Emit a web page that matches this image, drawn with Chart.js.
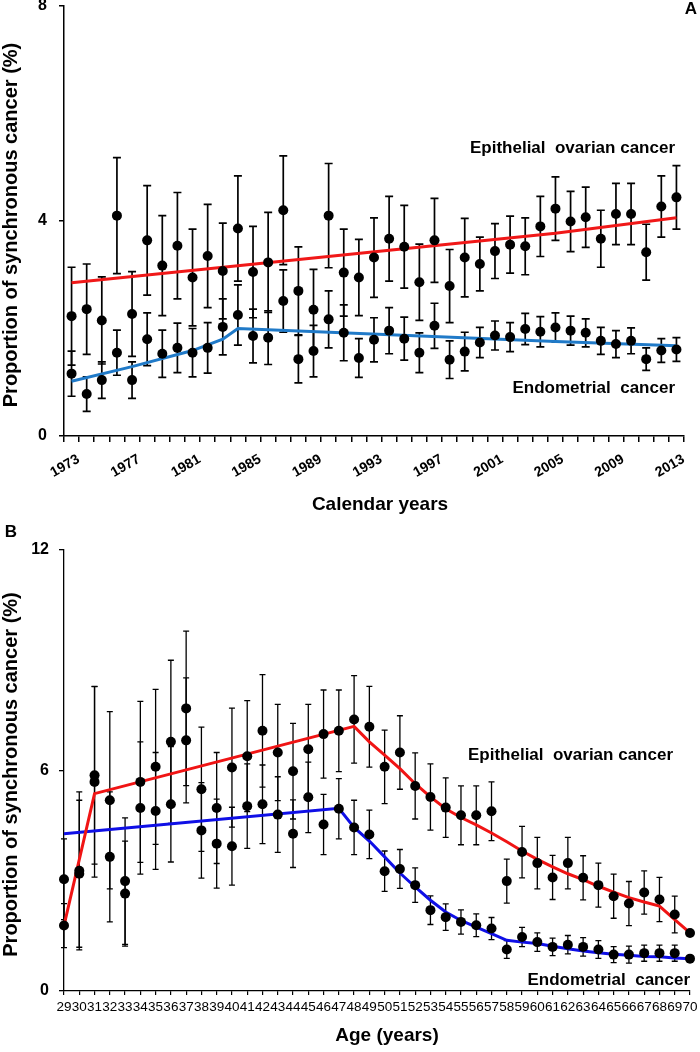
<!DOCTYPE html>
<html><head><meta charset="utf-8">
<script src="https://cdn.jsdelivr.net/npm/chart.js@4.4.0/dist/chart.umd.min.js"></script>
<style>
html,body{margin:0;padding:0;background:#fff;}
#wrap{position:relative;width:700px;height:1052px;background:#fff;overflow:hidden;}
#cA{position:absolute;left:0;top:0;}
#cB{position:absolute;left:0;top:520px;}
</style></head><body>
<div id="wrap"><canvas id="cA" width="700" height="520"></canvas><canvas id="cB" width="700" height="532"></canvas></div>
<script>
// ---------- Panel A data ----------
const yearsA = ['1973','1974','1975','1976','1977','1978','1979','1980','1981','1982',
  '1983','1984','1985','1986','1987','1988','1989','1990','1991','1992',
  '1993','1994','1995','1996','1997','1998','1999','2000','2001','2002',
  '2003','2004','2005','2006','2007','2008','2009','2010','2011','2012','2013'];
const tickLabelsA = ['1973','1977','1981','1985','1989','1993','1997','2001','2005','2009','2013'];
const ovarianA = [2.23,2.36,2.15,4.10,2.27,3.64,3.17,3.54,2.95,3.35,
  3.07,3.86,3.05,3.23,4.20,2.70,2.35,4.10,3.04,2.95,
  3.32,3.67,3.52,2.86,3.64,2.79,3.32,3.20,3.44,3.56,
  3.53,3.90,4.23,3.99,4.07,3.67,4.13,4.13,3.42,4.27,4.44];
const ovarianErrA = [0.91,0.84,0.81,1.08,0.79,1.02,0.93,0.99,0.90,0.96,
  0.89,0.98,0.85,0.93,1.01,0.82,0.75,0.97,0.81,0.71,
  0.74,0.79,0.77,0.71,0.78,0.68,0.73,0.50,0.51,0.53,
  0.53,0.56,0.59,0.56,0.56,0.53,0.57,0.57,0.52,0.57,0.59];
const endoA = [1.16,0.78,1.04,1.55,1.04,1.80,1.53,1.64,1.55,1.64,
  2.03,2.25,1.86,1.83,2.51,1.43,1.58,2.17,1.92,1.45,
  1.79,1.96,1.81,1.55,2.05,1.42,1.57,1.74,1.87,1.84,
  1.99,1.94,2.02,1.96,1.92,1.77,1.71,1.77,1.43,1.59,1.61];
const endoErrA = [0.42,0.32,0.34,0.42,0.34,0.49,0.44,0.46,0.45,0.47,
  0.52,0.56,0.50,0.50,0.58,0.44,0.48,0.53,0.52,0.36,
  0.41,0.43,0.40,0.37,0.42,0.35,0.36,0.28,0.27,0.27,
  0.29,0.28,0.27,0.27,0.26,0.25,0.25,0.24,0.21,0.22,0.22];
const ovarianTrendYearsA = ['1973','2005','2013'];
const ovarianTrendA = [2.85,3.77,4.06];
const endoTrendYearsA = ['1973','1977','1981','1983','1984','2005','2013'];
const endoTrendA = [1.02,1.29,1.59,1.80,2.00,1.76,1.68];

// ---------- Panel B data ----------
const agesB = ['29','30','31','32','33','34','35','36','37','38','39','40','41','42','43','44','45','46','47','48','49',
  '50','51','52','53','54','55','56','57','58','59','60','61','62','63','64','65','66','67','68','69','70'];
const ovarianB = [1.78,3.27,5.87,5.19,2.99,5.69,6.10,6.78,7.69,5.49,4.98,6.08,6.39,7.08,6.49,5.98,6.58,6.99,7.08,7.39,7.19,
  6.10,6.49,5.58,5.28,4.99,4.78,4.78,4.89,2.99,3.78,3.48,3.09,3.48,3.08,2.88,2.58,2.38,2.68,2.49,2.08,1.58];
const ovarianErrB = [0.60,2.15,2.42,2.41,1.72,2.19,2.11,2.22,2.10,1.69,1.51,1.62,1.51,1.53,1.31,1.30,1.22,1.20,1.11,1.19,1.10,
  1.00,1.00,0.90,0.90,0.81,0.80,0.80,0.80,0.60,0.70,0.70,0.60,0.70,0.60,0.60,0.60,0.60,0.59,0.60,0.50,0];
const endoB = [3.04,3.19,5.69,3.65,2.65,4.98,4.90,5.08,6.82,4.37,4.01,3.94,5.03,5.08,4.80,4.28,5.27,4.53,4.96,4.45,4.26,
  3.26,3.32,2.88,2.20,2.01,1.88,1.79,1.70,1.13,1.47,1.33,1.20,1.26,1.20,1.13,0.99,0.99,1.03,1.03,1.03,0.88];
const endoErrB = [1.10,2.00,2.59,1.77,1.43,1.80,1.59,1.57,1.70,1.30,1.21,1.06,1.15,1.07,1.03,0.92,0.96,0.82,0.82,0.74,0.66,
  0.55,0.53,0.47,0.39,0.36,0.33,0.31,0.30,0.24,0.26,0.25,0.24,0.25,0.25,0.24,0.22,0.23,0.22,0.22,0.22,0];
const ovarianTrendAgesB = ['29','31','48','49','50','51','52','53','54','55','56','57','58','59','60','61','62','63','64','65','66','67','68','69','70'];
const ovarianTrendB = [1.78,5.37,7.20,6.78,6.42,6.05,5.64,5.28,4.96,4.72,4.52,4.30,4.06,3.81,3.58,3.38,3.19,3.03,2.85,2.69,2.54,2.42,2.31,1.94,1.58];
const endoTrendAgesB = ['29','47','48','49','50','51','52','53','54','55','56','57','58','59','60','61','62','63','64','65','66','67','68','69','70'];
const endoTrendB = [4.28,4.97,4.45,4.08,3.65,3.21,2.83,2.47,2.15,1.92,1.74,1.56,1.38,1.33,1.29,1.22,1.15,1.09,1.04,1.00,0.97,0.94,0.93,0.90,0.88];

const yTicksA = [0,4,8];
const yTicksB = [0,6,12];

// ---------- common ----------
const FONT = "'Liberation Sans', Arial, Helvetica, sans-serif";
Chart.defaults.font.family = FONT;
Chart.defaults.color = '#000';

const errorBars = {
  id: 'errorBars',
  beforeDatasetsDraw(chart, args, opts) {
    const {ctx, scales: {x, y}} = chart;
    ctx.save();
    ctx.strokeStyle = '#000';
    ctx.lineWidth = opts.width;
    chart.data.datasets.forEach(ds => {
      if (!ds.errors) return;
      ds.data.forEach((v, i) => {
        const e = ds.errors[i];
        if (v == null || !e) return;
        const px = x.getPixelForValue(i);
        const t = y.getPixelForValue(v + e), b = y.getPixelForValue(v - e);
        ctx.beginPath();
        ctx.moveTo(px, t); ctx.lineTo(px, b);
        ctx.moveTo(px - opts.cap, t); ctx.lineTo(px + opts.cap, t);
        ctx.moveTo(px - opts.cap, b); ctx.lineTo(px + opts.cap, b);
        ctx.stroke();
      });
    });
    ctx.restore();
  }
};

const texts = {
  id: 'texts',
  afterDraw(chart, args, o) {
    const {ctx, chartArea: ca, scales: {y}} = chart;
    ctx.save();
    ctx.fillStyle = '#000';
    // y-axis title
    ctx.save();
    ctx.font = `bold ${o.yTitleSize}px ${FONT}`;
    ctx.textAlign = 'center'; ctx.textBaseline = 'middle';
    ctx.translate(o.yTitleX, (ca.top + ca.bottom) / 2 + o.yTitleDy);
    ctx.rotate(-Math.PI / 2);
    ctx.fillText(o.yTitle, 0, 0);
    ctx.restore();
    // x-axis title
    ctx.font = `bold ${o.xTitleSize}px ${FONT}`;
    ctx.textAlign = 'center'; ctx.textBaseline = 'middle';
    ctx.fillText(o.xTitle, (ca.left + ca.right) / 2 + o.xTitleDx, ca.bottom + o.xTitleDy);
    // series labels
    ctx.font = `bold ${o.seriesSize}px ${FONT}`;
    ctx.textAlign = 'right';
    o.series.forEach(s => {
      ctx.fillText(s.text, ca.right - s.dx, y.getPixelForValue(s.value));
    });
    // panel letter
    ctx.font = `bold ${o.letterSize}px ${FONT}`;
    ctx.textAlign = 'center';
    ctx.fillText(o.letter, o.letterX, o.letterY);
    ctx.restore();
  }
};

function pointSet(label, values, errs) {
  return { label, data: values, errors: errs, showLine: false, pointRadius: 5, pointHoverRadius: 5,
    pointBackgroundColor: '#000', pointBorderColor: '#000', pointBorderWidth: 0, borderColor: '#000', clip: false };
}
function trendSet(label, xs, ys, color) {
  return { label, data: xs.map((k, i) => ({x: k, y: ys[i]})), borderColor: color, borderWidth: 3,
    pointRadius: 0, fill: false, tension: 0, clip: false };
}

// ---------- Chart A ----------
new Chart(document.getElementById('cA'), {
  type: 'line',
  data: {
    labels: yearsA,
    datasets: [
      pointSet('Epithelial ovarian cancer', ovarianA, ovarianErrA),
      pointSet('Endometrial cancer', endoA, endoErrA),
      trendSet('Ovarian trend', ovarianTrendYearsA, ovarianTrendA, 'rgb(240,24,24)'),
      trendSet('Endometrial trend', endoTrendYearsA, endoTrendA, 'rgb(32,122,200)')
    ]
  },
  options: {
    responsive: false, animation: false, devicePixelRatio: 1,
    layout: { padding: { top: 6, right: 16, bottom: 0, left: 0 } },
    plugins: {
      legend: { display: false }, tooltip: { enabled: false },
      errorBars: { width: 1.7, cap: 4 },
      texts: {
        yTitle: 'Proportion of synchronous cancer (%)', yTitleSize: 20, yTitleX: 11, yTitleDy: 4,
        xTitle: 'Calendar years', xTitleSize: 19, xTitleDx: 6, xTitleDy: 69,
        seriesSize: 17,
        series: [ {text: 'Epithelial  ovarian cancer', value: 5.36, dx: 9},
                  {text: 'Endometrial  cancer', value: 0.89, dx: 9} ],
        letter: 'A', letterSize: 17, letterX: 691, letterY: 9
      }
    },
    scales: {
      x: {
        type: 'category', offset: true,
        grid: { display: true, drawOnChartArea: false, drawTicks: true, tickLength: 6, offset: true,
                color: '#000', tickColor: '#000', lineWidth: 1.5, tickWidth: 1.5 },
        border: { display: true, color: '#000', width: 1.5 },
        ticks: { autoSkip: false, maxRotation: 30, minRotation: 30, padding: 9, labelOffset: 7,
                 font: { size: 14, weight: 'bold' }, color: '#000',
                 callback: function(v) { const l = this.getLabelForValue(v); return tickLabelsA.includes(l) ? l : ''; } },
        afterFit: s => { s.height = 84; s.paddingLeft = 0; s.paddingRight = 0; s.paddingTop = 0; s.paddingBottom = 0; }
      },
      y: {
        min: 0, max: 8,
        afterBuildTicks: s => { s.ticks = yTicksA.map(v => ({value: v})); },
        grid: { display: true, drawOnChartArea: false, drawTicks: true, tickLength: 5,
                color: '#000', tickColor: '#000', lineWidth: 1.5, tickWidth: 1.5 },
        border: { display: true, color: '#000', width: 1.5 },
        ticks: { padding: 12, font: { size: 16, weight: 'bold' }, color: '#000' },
        afterFit: s => { s.width = 64; s.paddingLeft = 0; s.paddingRight = 0; s.paddingTop = 0; s.paddingBottom = 0; }
      }
    }
  },
  plugins: [errorBars, texts]
});

// ---------- Chart B ----------
new Chart(document.getElementById('cB'), {
  type: 'line',
  data: {
    labels: agesB,
    datasets: [
      pointSet('Epithelial ovarian cancer', ovarianB, ovarianErrB),
      pointSet('Endometrial cancer', endoB, endoErrB),
      trendSet('Ovarian trend', ovarianTrendAgesB, ovarianTrendB, 'rgb(240,20,20)'),
      trendSet('Endometrial trend', endoTrendAgesB, endoTrendB, 'rgb(15,15,230)')
    ]
  },
  options: {
    responsive: false, animation: false, devicePixelRatio: 1,
    layout: { padding: { top: 30, right: 10, bottom: 0, left: 0 } },
    plugins: {
      legend: { display: false }, tooltip: { enabled: false },
      errorBars: { width: 1.3, cap: 3 },
      texts: {
        yTitle: 'Proportion of synchronous cancer (%)', yTitleSize: 20, yTitleX: 11, yTitleDy: 4,
        xTitle: 'Age (years)', xTitleSize: 19, xTitleDx: 10, xTitleDy: 45,
        seriesSize: 17,
        series: [ {text: 'Epithelial  ovarian cancer', value: 6.42, dx: 17},
                  {text: 'Endometrial  cancer', value: 0.29, dx: 0} ],
        letter: 'B', letterSize: 17, letterX: 11, letterY: 12
      }
    },
    scales: {
      x: {
        type: 'category', offset: false,
        grid: { display: true, drawOnChartArea: false, drawTicks: true, tickLength: 4, offset: false,
                color: '#000', tickColor: '#000', lineWidth: 1.2, tickWidth: 1.2 },
        border: { display: true, color: '#000', width: 1.3 },
        ticks: { autoSkip: false, maxRotation: 0, minRotation: 0, padding: 4,
                 font: { size: 13.5 }, color: '#000' },
        afterFit: s => { s.height = 61; s.paddingLeft = 0; s.paddingRight = 0; s.paddingTop = 0; s.paddingBottom = 0; }
      },
      y: {
        min: 0, max: 12,
        afterBuildTicks: s => { s.ticks = yTicksB.map(v => ({value: v})); },
        grid: { display: true, drawOnChartArea: false, drawTicks: true, tickLength: 5,
                color: '#000', tickColor: '#000', lineWidth: 1.3, tickWidth: 1.3 },
        border: { display: true, color: '#000', width: 1.3 },
        ticks: { padding: 10, font: { size: 16, weight: 'bold' }, color: '#000' },
        afterFit: s => { s.width = 64; s.paddingLeft = 0; s.paddingRight = 0; s.paddingTop = 0; s.paddingBottom = 0; }
      }
    }
  },
  plugins: [errorBars, texts]
});
</script></body></html>
